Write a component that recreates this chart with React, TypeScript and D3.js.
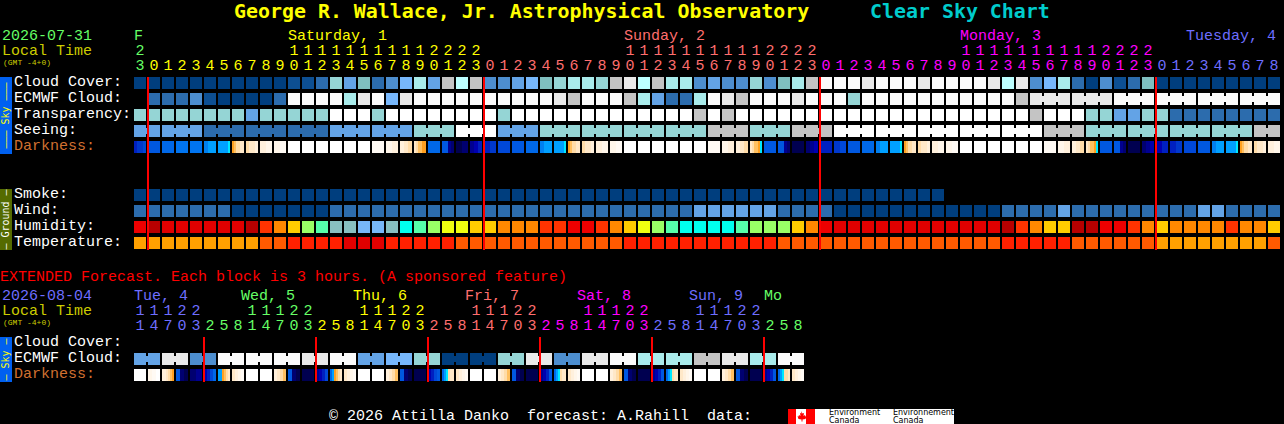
import React from "react";
import { scaleBand, scaleOrdinal, range } from "d3";

// one letter per block, spaces only group the letters for reading
const cloudCover = "aaaaaaaaaaa bbc hegcdfi ekjkdde fghiihk ljkii dedd hdgik wwwl wwwl wwwwljl dficadbcg aaaaaaaaa";
const ecmwfCloud = "-cccdbaaaac wwww ilwflw wwwwwwwww lkwwwkiecciwlkwwwlwwwh wwwwwwwwwww k llllll wwwwwwwwwwww";
const transparency = "hhhhhhhh e hhhhh WWW h WWWWWWWW h WWWWWWWWWWWWW k W k WWWWWWWWWWWWWWWWWWWWW k WWW hh ee hh cccccccc";
const seeing = "eeeee ccccccccc eeeeee hhh WWW eee hhhhhhhhhhhh kkk hhh kkk WWWWWWWWWWWWWWW kkk hhhhhhhhhhhh kk";
const smoke = "aaaaaaaaaa aaaaaaaaaa aaaaaaaaaa aaaaaaaaaa aaaaaaaaaa aaaaaaaa";
const wind = "ccccccc aaaaaaa cccccccccccccccccccccccccc eeeeee cccc aaaaaaaaaaaa cccc e ccccccccc ee cccc";
const humidity = "qRrrrrrrRoOygs ttbbtcs gYYyyOOOooqqoO yYgs cccc sgggyOq rrrrrrrrrrrr RoOyyRRqqoOy OOOOoOOy";
const temperature = "AAAAAAAAA BB CCCC DDD CCCCC BBBBBBBBBBBB CCCCCCCCCCC BBBBBBBBBBBBBBBB CCCCC BBBBBB AAAAAAAA B";
const darkness = `5667 8 9 A A BCC CCCCCD EFGGHH GHHI IJ JK W W W W W W K JI IHG HGFFEE 9 8832 12 345 56 7 8 9 BCC CCCCCD
EFGGHH GHHI IJ JK W W W W W W K JI IHG HGFFED 8 8832 1 234 55 67 8 9 BCC CCCCCD
EFGGHH GHHI IJ JK W W W W W W K JI IHG HGFFED 8 8832 1 234 45 56 7 8 BCC CCCCCD EFGGHH GHHI IJ`;

const extCloud = "ee ll dd ww ww ww ll ww ee ff hh aa aa hh ll dd ll ww ii ii kk ll ii ww";
const extDarkness = `W JKW IIHGFE 882211 23 4579 CCEFGH HIJK W W IHGF 882211 1 3457 9CEFGH HIJK W W IHGF 882211 1 4578
9CDGHH HIJK W W IHGF 882211 1 3458 9CDGHH HIJK W W IHGF 882211 1 3458 9CDGHH HIJK W W IHGF 882211 1 3458 9CDGGH HIJK`;

const mainHours = [23,
  0,1,2,3,4,5,6,7,8,9,10,11,12,13,14,15,16,17,18,19,20,21,22,23,
  0,1,2,3,4,5,6,7,8,9,10,11,12,13,14,15,16,17,18,19,20,21,22,23,
  0,1,2,3,4,5,6,7,8,9,10,11,12,13,14,15,16,17,18,19,20,21,22,23,
  0,1,2,3,4,5,6,7,8];
const extHours = [11,14,17,20,23,
  2,5,8,11,14,17,20,23, 2,5,8,11,14,17,20,23, 2,5,8,11,14,17,20,23,
  2,5,8,11,14,17,20,23, 2,5,8,11,14,17,20,23, 2,5,8];

const mainDays = ["F", "Saturday, 1", "Sunday, 2", "Monday, 3", "Tuesday, 4"];
const mainDayCols = [0, 11, 35, 59, 75];
const mainDayColors = ["#66ff66", "#ffff00", "#ff6e6e", "#ff00ff", "#6e6eff"];
const extDays = ["Tue, 4", "Wed, 5", "Thu, 6", "Fri, 7", "Sat, 8", "Sun, 9", "Mo"];
const extDayCols = [0, 8, 16, 24, 32, 40, 45];
const extDayColors = ["#6e6eff", "#66ff66", "#ffff00", "#ff6e6e", "#ff00ff", "#6e6eff", "#66ff66"];

const skyLabels = ["Cloud Cover:", "ECMWF Cloud:", "Transparency:", "Seeing:", "Darkness:"];
const groundLabels = ["Smoke:", "Wind:", "Humidity:", "Temperature:"];
const extLabels = ["Cloud Cover:", "ECMWF Cloud:", "Darkness:"];

const blockCodes = ["a", "b", "c", "d", "e", "f", "g", "h", "i", "j", "k", "l", "w", "W"];
const blockColors = ["#003e7e", "#0d4f92", "#2c6cad", "#4d8ecf", "#63a3e6", "#77b7fb", "#7fbfbf", "#95d5d5", "#a9ebeb", "#bdffff", "#c4c4c4", "#e9e9e9", "#fbfbfb", "#ffffff"];
const humidityCodes = ["R", "r", "q", "o", "O", "y", "Y", "g", "s", "t", "b", "c"];
const humidityColors = ["#b80000", "#e00000", "#ee0000", "#ff3300", "#ff8800", "#ffcc00", "#f0ff10", "#99ff66", "#55ffaa", "#88c0c0", "#77b7f7", "#00ffee"];
const temperatureCodes = ["A", "B", "C", "D"];
const temperatureColors = ["#ffa000", "#ff5a00", "#ff2000", "#e00000"];
const darkCodes = "123456789ABCDEFGHIJKW".split("");
const darkColors = ["#000050", "#000070", "#000090", "#0000b0", "#0020c0", "#0038cc", "#0048d8", "#0058e0", "#0068e8", "#0074f0", "#0080f0", "#00a0ff", "#00e8ff", "#ffa020", "#ffc060", "#ffdca8", "#ffe8c8", "#fff0dc", "#fff6ea", "#fffaf4", "#ffffff"];

const FONT = "'Liberation Mono', monospace";
const TITLE_FONT = "'DejaVu Sans Mono', monospace";
const LABEL = "#ffffff";
const LOCAL = "#cccc00";
const DARK_LABEL = "#d07030";
const CELL_TOP = 77;
const ROW = 16;

const letters = (s: string) => s.replace(/\s/g, "").split("");

const blockColor = scaleOrdinal<string, string>().domain(blockCodes).range(blockColors);
const humidityColor = scaleOrdinal<string, string>().domain(humidityCodes).range(humidityColors);
const temperatureColor = scaleOrdinal<string, string>().domain(temperatureCodes).range(temperatureColors);
const darkColor = scaleOrdinal<string, string>().domain(darkCodes).range(darkColors);

const makeX = (n: number) =>
  scaleBand<number>().domain(range(n)).range([133, 133 + n * 14]).paddingInner(1 / 7).paddingOuter(1 / 14);

const xMain = makeX(82);
const xExt = makeX(48);

// colour of each hour: next day starts whenever the hour wraps
const hourDays = (hours: number[]) => {
  let day = 0;
  return hours.map((h, i) => {
    if (i > 0 && h < hours[i - 1]) day += 1;
    return day;
  });
};

const Blocks = ({ codes, top, x, color, groupFrom, groupSize }: any) => {
  const w = x.bandwidth();
  const cells = letters(codes);
  return (
    <g shapeRendering="crispEdges">
      {cells.map((c: string, i: number) => {
        if (c === "-") return null;
        const bridged =
          groupSize && i >= groupFrom && i < cells.length - 1 &&
          (((i - groupFrom) % groupSize) + groupSize) % groupSize !== groupSize - 1;
        return (
          <g key={i}>
            <rect x={x(i)} y={top} width={w} height={12} fill={color(c)} />
            {bridged && <rect x={x(i) + w} y={top + 3} width={2} height={6} fill={color(c)} />}
          </g>
        );
      })}
    </g>
  );
};

const DarkBlocks = ({ cells, top, x }: any) => {
  const w = x.bandwidth();
  return (
    <g shapeRendering="crispEdges">
      {cells.map((cell: string, i: number) =>
        cell.split("").map((c, j) => (
          <rect key={`${i}-${j}`} x={x(i) + (j * w) / cell.length} y={top} width={w / cell.length} height={12} fill={darkColor(c)} />
        ))
      )}
    </g>
  );
};

const Txt = ({ x, y, fill, size = 15, family = FONT, bold, children }: any) => (
  <text x={x} y={y} fill={fill} fontFamily={family} fontSize={size} fontWeight={bold ? "bold" : "normal"} style={{ whiteSpace: "pre" }}>
    {children}
  </text>
);

const HourLabels = ({ hours, x, y, colors }: any) => {
  const days = hourDays(hours);
  const cx = (i: number) => x(i) + x.bandwidth() / 2;
  return (
    <g fontFamily={FONT} fontSize={15} textAnchor="middle">
      {hours.map((h: number, i: number) => (
        <g key={i} fill={colors[days[i]]}>
          {h >= 10 && <text x={cx(i)} y={y - 15}>{Math.floor(h / 10)}</text>}
          <text x={cx(i)} y={y}>{h % 10}</text>
        </g>
      ))}
    </g>
  );
};

const SideBox = ({ top, bottom, fill, color, label }: any) => {
  const mid = (top + bottom) / 2;
  return (
    <g>
      <rect x={0} y={top} width={12} height={bottom - top} fill={fill} shapeRendering="crispEdges" />
      <text transform={`translate(9,${mid}) rotate(-90)`} textAnchor="middle" fill={color} fontFamily={TITLE_FONT} fontSize={10} style={{ whiteSpace: "pre" }}>
        {label}
      </text>
    </g>
  );
};

export default function App() {
  const midnightsMain = mainHours.map((h, i) => (h === 0 ? i : -1)).filter((i) => i >= 0);
  const midnightsExt = extHours.map((h, i) => (i > 0 && h < extHours[i - 1] ? i : -1)).filter((i) => i >= 0);
  const darkCells = darkness.trim().split(/\s+/);
  const extDarkCells = extDarkness.trim().split(/\s+/);

  return (
    <svg width={1284} height={424} style={{ position: "absolute", left: 0, top: 0, display: "block" }}>
      <rect width={1284} height={424} fill="#000000" />

      <Txt x={234} y={18} fill="#ffff00" size={19.92} family={TITLE_FONT} bold>George R. Wallace, Jr. Astrophysical Observatory</Txt>
      <Txt x={870} y={18} fill="#00cccc" size={19.92} family={TITLE_FONT} bold>Clear Sky Chart</Txt>

      <Txt x={2} y={40} fill="#66ff66">2026-07-31</Txt>
      <Txt x={2} y={55} fill={LOCAL}>Local Time</Txt>
      <Txt x={3} y={65} fill={LOCAL} size={8}>(GMT -4+0)</Txt>
      {mainDays.map((d, i) => (
        <Txt key={d} x={xMain(mainDayCols[i])! + (i === 4 ? 2 : 0)} y={40} fill={mainDayColors[i]}>{d}</Txt>
      ))}
      <HourLabels hours={mainHours} x={xMain} y={70} colors={mainDayColors} />

      <SideBox top={77} bottom={154} fill="#0060f0" color="#ffff00" label="––– Sky –––" />
      <SideBox top={189} bottom={250} fill="#556b00" color="#ffffff" label="– Ground –" />

      {skyLabels.map((l, i) => (
        <Txt key={l} x={14} y={CELL_TOP + 9 + i * ROW} fill={l === "Darkness:" ? DARK_LABEL : LABEL}>{l}</Txt>
      ))}
      {groundLabels.map((l, i) => (
        <Txt key={l} x={14} y={198 + i * ROW} fill={LABEL}>{l}</Txt>
      ))}

      <Blocks codes={cloudCover} top={CELL_TOP} x={xMain} color={blockColor} />
      <Blocks codes={ecmwfCloud} top={CELL_TOP + ROW} x={xMain} color={blockColor} groupFrom={64} groupSize={3} />
      <Blocks codes={transparency} top={CELL_TOP + 2 * ROW} x={xMain} color={blockColor} />
      <Blocks codes={seeing} top={CELL_TOP + 3 * ROW} x={xMain} color={blockColor} groupFrom={-1} groupSize={3} />
      <DarkBlocks cells={darkCells} top={CELL_TOP + 4 * ROW} x={xMain} />

      <Blocks codes={smoke} top={189} x={xMain} color={blockColor} />
      <Blocks codes={wind} top={189 + ROW} x={xMain} color={blockColor} />
      <Blocks codes={humidity} top={189 + 2 * ROW} x={xMain} color={humidityColor} />
      <Blocks codes={temperature} top={189 + 3 * ROW} x={xMain} color={temperatureColor} />

      {midnightsMain.map((i) => (
        <rect key={i} x={xMain(i)! - 1} y={77} width={2} height={173} fill="#ff0000" shapeRendering="crispEdges" />
      ))}

      <Txt x={0} y={281} fill="#ff0000">EXTENDED Forecast. Each block is 3 hours. (A sponsored feature)</Txt>
      <Txt x={2} y={300} fill="#6e6eff">2026-08-04</Txt>
      <Txt x={2} y={315} fill={LOCAL}>Local Time</Txt>
      <Txt x={3} y={325} fill={LOCAL} size={8}>(GMT -4+0)</Txt>
      {extDays.map((d, i) => (
        <Txt key={d} x={xExt(extDayCols[i])! + (i > 0 && i < 6 ? -5 : 0)} y={300} fill={extDayColors[i]}>{d}</Txt>
      ))}
      <HourLabels hours={extHours} x={xExt} y={330} colors={extDayColors} />

      <SideBox top={337} bottom={382} fill="#0060f0" color="#ffff00" label="– Sky –" />
      {extLabels.map((l, i) => (
        <Txt key={l} x={14} y={346 + i * ROW} fill={l === "Darkness:" ? DARK_LABEL : LABEL}>{l}</Txt>
      ))}
      <Blocks codes={extCloud} top={353} x={xExt} color={blockColor} groupFrom={0} groupSize={2} />
      <DarkBlocks cells={extDarkCells} top={369} x={xExt} />
      {midnightsExt.map((i) => (
        <rect key={i} x={xExt(i)! - 1} y={337} width={2} height={45} fill="#ff0000" shapeRendering="crispEdges" />
      ))}

      <Txt x={329} y={420} fill="#ffffff">© 2026 Attilla Danko  forecast: A.Rahill  data:</Txt>

      <g shapeRendering="crispEdges">
        <rect x={788} y={409} width={166} height={15} fill="#ffffff" />
        <rect x={788} y={409} width={8} height={15} fill="#ff0000" />
        <rect x={806} y={409} width={9} height={15} fill="#ff0000" />
      </g>
      <path d="M801 411l1.5 2.5 1.5-.5-.5 3 1.5-1 .5 1.5 1-.2-1 2.7-3 .5v2h-1v-2l-3-.5-1-2.7 1 .2.5-1.5 1.5 1-.5-3 1.5.5z" fill="#ff0000" />
      <g fontFamily="'DejaVu Sans', sans-serif" fontSize={8} fill="#000000">
        <text x={829} y={415}>Environment</text>
        <text x={829} y={423}>Canada</text>
        <text x={893} y={415} textLength={61}>Environnement</text>
        <text x={893} y={423}>Canada</text>
      </g>
    </svg>
  );
}
